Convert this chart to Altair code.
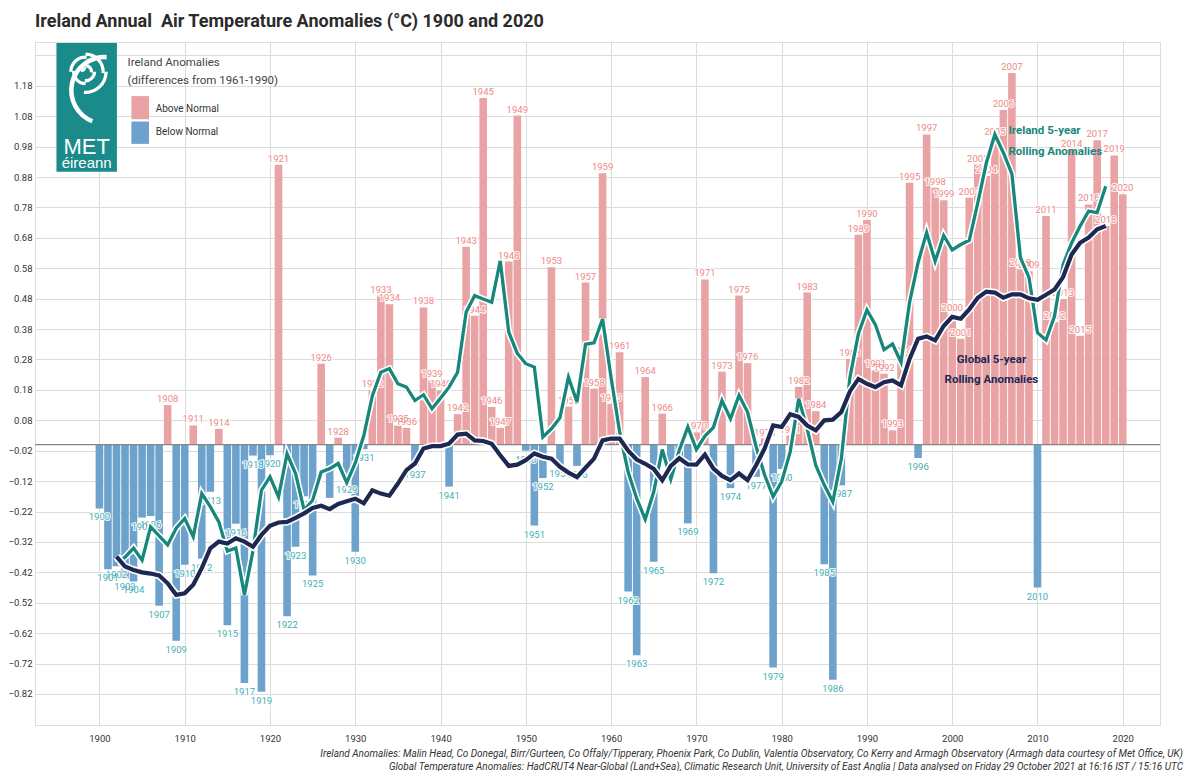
import math
import altair as alt
import pandas as pd

# ---------------- data ----------------
years = list(range(1900, 2021))
ireland_anomaly = [
    -0.21, -0.41, -0.40, -0.44, -0.45, -0.24, -0.235, -0.53, 0.13, -0.645,   # 1900-1909
    -0.395, 0.063, -0.375, -0.155, 0.052, -0.594, -0.26, -0.784, -0.036, -0.813,  # 1910-1919
    -0.035, 0.92, -0.564, -0.336, -0.17, -0.43, 0.266, -0.175, 0.023, -0.12,  # 1920-1929
    -0.352, -0.015, 0.178, 0.49, 0.462, 0.063, 0.055, -0.07, 0.451, 0.211,    # 1930-1939
    0.178, -0.138, 0.10, 0.651, 0.424, 1.14, 0.124, 0.055, 0.602, 1.082,      # 1940-1949
    -0.02, -0.266, -0.11, 0.583, -0.066, 0.125, -0.07, 0.533, 0.184, 0.892,   # 1950-1959
    0.134, 0.304, -0.483, -0.693, 0.222, -0.385, 0.102, -0.10, -0.04, -0.259, # 1960-1969
    0.04, 0.543, -0.423, 0.24, -0.143, 0.49, 0.268, -0.106, 0.02, -0.733,     # 1970-1979
    -0.08, 0.03, 0.19, 0.50, 0.11, -0.393, -0.773, -0.134, 0.282, 0.69,       # 1980-1989
    0.739, 0.244, 0.233, 0.047, 0.288, 0.861, -0.044, 1.02, 0.845, 0.804,     # 1990-1999
    0.43, 0.348, 0.812, 0.921, 0.883, 1.009, 1.10, 1.222, 0.577, 0.57,        # 2000-2009
    -0.47, 0.752, 0.403, 0.479, 0.97, 0.358, 0.79, 1.001, 0.719, 0.951,       # 2010-2019
    0.823,                                                                      # 2020
]
roll_years = list(range(1902, 2019))
ireland_5yr = [
    -0.39, -0.37, -0.34, -0.38, -0.27, -0.30, -0.33, -0.275,                  # 1902-1909
    -0.243, -0.303, -0.161, -0.204, -0.254, -0.35, -0.34, -0.494, -0.35, -0.15,  # 1910-1919
    -0.106, -0.172, -0.03, -0.095, -0.215, -0.183, -0.09, -0.079, -0.062, -0.125,  # 1920-1929
    -0.06, 0.03, 0.16, 0.238, 0.25, 0.20, 0.189, 0.145, 0.164, 0.118,         # 1930-1939
    0.153, 0.189, 0.238, 0.435, 0.49, 0.479, 0.468, 0.604, 0.37, 0.30,        # 1940-1949
    0.266, 0.255, 0.025, 0.052, 0.088, 0.222, 0.14, 0.33, 0.335, 0.413,       # 1950-1959
    0.22, 0.042, -0.09, -0.177, -0.246, -0.155, -0.016, -0.114, -0.018, 0.058,  # 1960-1969
    -0.016, 0.028, 0.057, 0.145, 0.085, 0.162, 0.107, -0.006, -0.10, -0.171,  # 1970-1979
    -0.122, -0.024, 0.151, 0.052, -0.068, -0.133, -0.188, -0.046, 0.22, 0.365,  # 1980-1989
    0.443, 0.394, 0.312, 0.331, 0.271, 0.468, 0.599, 0.697, 0.603, 0.688,     # 1990-1999
    0.64, 0.658, 0.672, 0.795, 0.926, 1.02, 0.96, 0.89, 0.615, 0.55,          # 2000-2009
    0.368, 0.344, 0.423, 0.592, 0.663, 0.719, 0.768, 0.763, 0.85,             # 2010-2018
]
global_5yr = [
    -0.368, -0.401, -0.412, -0.42, -0.424, -0.43, -0.456, -0.494,             # 1902-1909
    -0.489, -0.461, -0.406, -0.341, -0.319, -0.325, -0.308, -0.319, -0.336, -0.297,  # 1910-1919
    -0.267, -0.256, -0.254, -0.241, -0.226, -0.208, -0.201, -0.212, -0.195, -0.186,  # 1920-1929
    -0.178, -0.193, -0.15, -0.161, -0.168, -0.128, -0.084, -0.062, -0.013, -0.005,   # 1930-1939
    -0.005, 0.003, 0.033, 0.036, 0.014, 0.012, 0.003, -0.035, -0.07, -0.066,  # 1940-1949
    -0.051, -0.029, -0.04, -0.046, -0.073, -0.092, -0.107, -0.076, -0.046, 0.014,  # 1950-1959
    0.02, 0.02, -0.02, -0.049, -0.063, -0.08, -0.117, -0.07, -0.045, -0.065,  # 1960-1969
    -0.066, -0.033, -0.079, -0.103, -0.117, -0.095, -0.117, -0.068, -0.013, 0.063,  # 1970-1979
    0.058, 0.10, 0.091, 0.063, 0.047, 0.08, 0.082, 0.107, 0.175, 0.216,       # 1980-1989
    0.20, 0.189, 0.205, 0.211, 0.195, 0.282, 0.348, 0.356, 0.343, 0.39,       # 1990-1999
    0.42, 0.414, 0.445, 0.483, 0.503, 0.50, 0.483, 0.494, 0.494, 0.481,       # 2000-2009
    0.476, 0.493, 0.51, 0.551, 0.625, 0.664, 0.681, 0.708, 0.719,             # 2010-2018
]
hidden_label_years = [1927, 1967, 1968]
x_ticks = [1900, 1910, 1920, 1930, 1940, 1950, 1960, 1970, 1980, 1990, 2000, 2010, 2020]
y_ticks = [-0.82, -0.72, -0.62, -0.52, -0.42, -0.32, -0.22, -0.12, -0.02, 0.08, 0.18,
           0.28, 0.38, 0.48, 0.58, 0.68, 0.78, 0.88, 0.98, 1.08, 1.18, 1.28]
legend_labels = ["Above Normal", "Below Normal"]

title_text = "Ireland Annual \u00a0Air Temperature Anomalies (°C) 1900 and 2020"
footer_1 = ("Ireland Anomalies: Malin Head, Co Donegal, Birr/Gurteen, Co Offaly/Tipperary, Phoenix Park, Co Dublin, "
            "Valentia Observatory, Co Kerry and Armagh Observatory (Armagh data courtesy of Met Office, UK)")
footer_2 = ("Global Temperature Anomalies: HadCRUT4 Near-Global (Land+Sea), Climatic Research Unit, University of East Anglia "
            "| Data analysed on Friday 29 October 2021 at 16:16 IST / 15:16 UTC")

# ---------------- style ----------------
FONT = "Roboto"
PINK = "#E9A3A5"
BLUE = "#6CA2CB"
PINK_TXT = "#EE8984"
BLUE_TXT = "#3FAFB5"
TEAL = "#17877C"
NAVY = "#1D2853"
LOGO = "#1B8A8B"

XS = alt.Scale(domain=[1893.03, 2023.78], nice=False, zero=False)
YS = alt.Scale(domain=[-0.922, 1.324], nice=False, zero=False)
AX_X = alt.Axis(values=x_ticks, format="d", title=None, grid=True, gridColor="#dcdcdc",
                domain=False, ticks=False, labelFont=FONT, labelFontSize=9.5,
                labelColor="#333", labelPadding=8)
AX_Y = alt.Axis(values=y_ticks, title=None, grid=True, gridColor="#dcdcdc",
                domain=False, ticks=False, labelFont=FONT, labelFontSize=9.5,
                labelColor="#333", labelPadding=3,
                labelExpr="datum.value > 1.2 ? '' : format(datum.value, '.2f')")

bars_df = pd.DataFrame({"year": years, "anom": ireland_anomaly})
bars_df["label"] = bars_df["year"].astype(str)
lab_df = bars_df[~bars_df["year"].isin(hidden_label_years)]
roll_df = pd.DataFrame({"year": roll_years, "ire": ireland_5yr, "glob": global_5yr})


def X(field="year"):
    return alt.X(f"{field}:Q", scale=XS, axis=AX_X)


def Y(field):
    return alt.Y(f"{field}:Q", scale=YS, axis=AX_Y)


zero = alt.Chart(pd.DataFrame({"v": [0.0]})).mark_rule(color="#858585", strokeWidth=1.2).encode(
    y=Y("v")
)

bars = alt.Chart(bars_df).mark_bar(size=7.6).encode(
    x=X("year"),
    y=Y("anom"),
    y2=alt.datum(0),
    color=alt.condition(alt.datum.anom > 0, alt.value(PINK), alt.value(BLUE)),
)

pos_lab = lab_df[lab_df["anom"] > 0]
neg_lab = lab_df[lab_df["anom"] <= 0]


def labels(df, color, baseline, dy):
    base = alt.Chart(df).encode(x=X(), y=Y("anom"), text="label:N")
    halo = base.mark_text(font=FONT, fontSize=9.5, baseline=baseline, dy=dy, color="white",
                          stroke="white", strokeWidth=2.2, strokeOpacity=0.85)
    txt = base.mark_text(font=FONT, fontSize=9.5, baseline=baseline, dy=dy, color=color)
    return halo + txt


pos_labels = labels(pos_lab, PINK_TXT, "alphabetic", -3)
neg_labels = labels(neg_lab, BLUE_TXT, "top", 4)

rbase = alt.Chart(roll_df)
ire_halo = rbase.mark_line(color="white", strokeWidth=6.5).encode(x=X(), y=Y("ire"))
ire_line = rbase.mark_line(color=TEAL, strokeWidth=3.3).encode(x=X(), y=Y("ire"))
glob_halo = rbase.mark_line(color="white", strokeWidth=7.5).encode(x=X(), y=Y("glob"))
glob_line = rbase.mark_line(color=NAVY, strokeWidth=4.2).encode(x=X(), y=Y("glob"))

ann_df = pd.DataFrame({
    "x": [2006.6, 2006.6, 2004.6, 2004.6],
    "y": [1.032, 0.962, 0.279, 0.213],
    "t": ["Ireland 5-year", "Rolling Anomalies", "Global 5-year", "Rolling Anomalies"],
    "who": ["ire", "ire", "glob", "glob"],
})
ann_ire = alt.Chart(ann_df[ann_df.who == "ire"]).mark_text(
    font=FONT, fontSize=11.5, fontWeight="bold", color=TEAL, align="left", baseline="middle"
).encode(x=X("x"), y=Y("y"), text="t:N")
ann_glob = alt.Chart(ann_df[ann_df.who == "glob"]).mark_text(
    font=FONT, fontSize=11.5, fontWeight="bold", color=NAVY, align="center", baseline="middle"
).encode(x=X("x"), y=Y("y"), text="t:N")

leg_title = alt.Chart(pd.DataFrame({
    "x": [1903.3, 1903.3], "y": [1.256, 1.196],
    "t": ["Ireland Anomalies", "(differences from 1961-1990)"],
})).mark_text(font=FONT, fontSize=11.5, color="#444", align="left", baseline="middle").encode(
    x=X("x"), y=Y("y"), text="t:N")
leg_sw = alt.Chart(pd.DataFrame({
    "x": [1903.75, 1903.75], "x2": [1905.81, 1905.81],
    "y": [1.146, 1.0625], "y2": [1.070, 0.989], "c": legend_labels,
})).mark_rect().encode(
    x=X("x"), x2="x2", y=Y("y"), y2="y2",
    color=alt.Color("c:N", scale=alt.Scale(domain=legend_labels, range=[PINK, BLUE]), legend=None),
)
leg_txt = alt.Chart(pd.DataFrame({
    "x": [1906.6, 1906.6], "y": [1.105, 1.027], "t": legend_labels,
})).mark_text(font=FONT, fontSize=10, color="#333", align="left", baseline="middle").encode(
    x=X("x"), y=Y("y"), text="t:N")

logo_rect = alt.Chart(pd.DataFrame({"x": [1894.96], "x2": [1902.05], "y": [1.321], "y2": [0.897]})).mark_rect(
    color=LOGO).encode(x=X("x"), x2="x2", y=Y("y"), y2="y2")
spiral_rows = []
for i in range(7):
    r1 = 1.5 + 2.9 * i
    spiral_rows.append({"cx": 1898.37, "cy": 1.226, "t1": math.pi * (0.5 * i - 0.5),
                        "t2": math.pi * (0.5 * i) + 0.08, "r1": r1, "r2": r1 + 3.3})
spiral_rows.append({"cx": 1900.6, "cy": 1.165, "t1": math.pi * 1.12, "t2": math.pi * 2.02,
                    "r1": 31.0, "r2": 35.5})
logo_arcs = alt.Chart(pd.DataFrame(spiral_rows)).mark_arc(color="white").encode(
    x=X("cx"), y=Y("cy"),
    theta=alt.Theta("t1:Q", scale=None, stack=None), theta2="t2:Q",
    radius=alt.Radius("r1:Q", scale=None), radius2="r2:Q",
)
logo_txt1 = alt.Chart(pd.DataFrame({"x": [1898.5], "y": [0.979], "t": ["MET"]})).mark_text(
    font="Liberation Sans", fontSize=22, color="white", baseline="middle"
).encode(x=X("x"), y=Y("y"), text="t:N")
logo_txt2 = alt.Chart(pd.DataFrame({"x": [1898.5], "y": [0.926], "t": ["éireann"]})).mark_text(
    font="Liberation Sans", fontSize=15, color="white", baseline="middle"
).encode(x=X("x"), y=Y("y"), text="t:N")

foot1 = alt.Chart(pd.DataFrame({"t": [footer_1]})).mark_text(
    font=FONT, fontSize=10, fontStyle="italic", color="#333", align="right", baseline="middle"
).encode(x=alt.value(1148), y=alt.value(712), text="t:N")
foot2 = alt.Chart(pd.DataFrame({"t": [footer_2]})).mark_text(
    font=FONT, fontSize=10, fontStyle="italic", color="#333", align="right", baseline="middle"
).encode(x=alt.value(1148), y=alt.value(725), text="t:N")

chart = alt.layer(
    bars, zero, pos_labels, neg_labels,
    ire_halo, ire_line, glob_halo, glob_line,
    ann_ire, ann_glob,
    leg_title, leg_sw, leg_txt,
    logo_rect, logo_arcs, logo_txt1, logo_txt2,
    foot1, foot2,
).properties(
    width=1125, height=683,
    autosize=alt.AutoSizeParams(type="none"),
    padding={"left": 27, "top": 34, "right": 24, "bottom": 46},
    title=alt.TitleParams(text=title_text, anchor="start", font=FONT, fontSize=18,
                          fontWeight="bold", color="#2b2b2b", offset=11, frame="group"),
).configure_view(fill="#f6f6f6", stroke="#c9c9c9", strokeWidth=1).configure(background="white")

chart.save("out.html", embed_options={"renderer": "svg", "actions": False})
